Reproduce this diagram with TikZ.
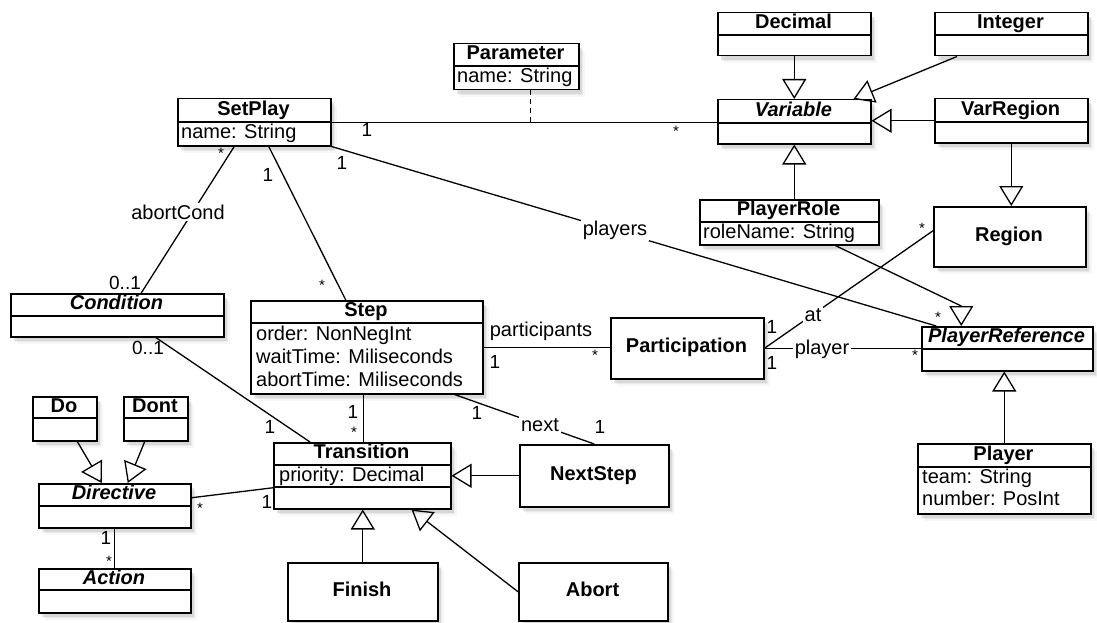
\documentclass[tikz,border=0pt]{standalone}
\usepackage{fontspec}
\setmainfont{Liberation Sans}
\usetikzlibrary{arrows.meta,shadows}
% class box: name, left, top, width, height
\newcommand\umlbox[5]{\node[box, minimum width=#4pt, minimum height=#5pt] (#1) at (#2,#3) {};}
% compartment separator: box name, offset below the top edge
\newcommand\umlsep[2]{\draw[line width=1.5pt] ([yshift=-#2pt]#1.north west) -- ([yshift=-#2pt]#1.north east);}
\begin{document}
\begin{tikzpicture}[x=1pt,y=-1pt,
  box/.style={draw, line width=1.5pt, fill=white, inner sep=0pt, anchor=north west,
    drop shadow={shadow xshift=6pt, shadow yshift=-7pt, opacity=0.06},
    drop shadow={shadow xshift=4.5pt, shadow yshift=-5.5pt, opacity=0.1},
    drop shadow={shadow xshift=3pt, shadow yshift=-4pt, opacity=0.16}},
  ttl/.style={font=\fontsize{20}{22}\selectfont\bfseries, inner sep=0pt, text height=14.5pt, text depth=4pt},
  abs/.style={font=\fontsize{20}{22}\selectfont\bfseries\itshape, inner sep=0pt, text height=14.5pt, text depth=4pt},
  attr/.style={font=\fontsize{20}{22}\selectfont, anchor=west, inner sep=0pt, text height=14.5pt, text depth=4pt},
  mult/.style={font=\fontsize{19}{20}\selectfont, inner sep=0pt},
  star/.style={font=\fontsize{15}{16}\selectfont, inner sep=0pt},
  lbl/.style={font=\fontsize{20}{22}\selectfont, fill=white, inner sep=2pt},
  assoc/.style={line width=1.3pt},
  gen/.style={line width=1.3pt, -{Triangle[open, length=20pt, width=24pt, line width=1.3pt]}}
]
\useasboundingbox[fill=white] (0,0) rectangle (1097,623);

% ---------- classes ----------
\umlbox{parameter}{453}{43}{125}{46} \umlsep{parameter}{23}
\node[ttl] (t-parameter) at (515.5,54.5) {Parameter};
\node[attr] (a-parameter) at (457,77.5) {name: String};

\umlbox{setplay}{177}{98}{153}{47} \umlsep{setplay}{24}
\node[ttl] (t-setplay) at (253.5,110) {SetPlay};
\node[attr] (a-setplay) at (181,133.5) {name: String};

\umlbox{decimal}{717}{12}{153}{43} \umlsep{decimal}{23}
\node[ttl] (t-decimal) at (793.5,23.5) {Decimal};

\umlbox{integer}{934}{12}{153}{43} \umlsep{integer}{23}
\node[ttl] (t-integer) at (1010.5,23.5) {Integer};

\umlbox{variable}{717}{99}{153}{44} \umlsep{variable}{24}
\node[abs] (t-variable) at (793.5,111) {Variable};

\umlbox{varregion}{934}{98}{153}{44} \umlsep{varregion}{24}
\node[ttl] (t-varregion) at (1010.5,110) {VarRegion};

\umlbox{playerrole}{699}{199}{179}{45} \umlsep{playerrole}{23}
\node[ttl] (t-playerrole) at (788.5,210.5) {PlayerRole};
\node[attr] (a-playerrole) at (703,233.5) {roleName: String};

\umlbox{region}{933}{206}{152}{60}
\node[ttl] (t-region) at (1009,236) {Region};

\umlbox{playerref}{921}{326}{171}{44} \umlsep{playerref}{23}
\node[abs] (t-playerref) at (1006.5,337.5) {PlayerReference};

\umlbox{participation}{610}{317}{153}{61}
\node[ttl] (t-participation) at (686.5,347.5) {Participation};

\umlbox{step}{250}{300}{232}{93} \umlsep{step}{23}
\node[ttl] (t-step) at (366,311.5) {Step};
\node[attr] (a-step1) at (256,335) {order: NonNegInt};
\node[attr] (a-step2) at (256,358) {waitTime: Miliseconds};
\node[attr] (a-step3) at (256,381) {abortTime: Miliseconds};

\umlbox{condition}{10}{293}{213}{43} \umlsep{condition}{23}
\node[abs] (t-condition) at (116.5,304.5) {Condition};

\umlbox{do}{32}{396}{64}{44} \umlsep{do}{22}
\node[ttl] (t-do) at (64,407) {Do};

\umlbox{dont}{123}{396}{64}{44} \umlsep{dont}{22}
\node[ttl] (t-dont) at (155,407) {Dont};

\umlbox{directive}{38}{483}{152}{44} \umlsep{directive}{23}
\node[abs] (t-directive) at (114,494.5) {Directive};

\umlbox{action}{38}{568}{152}{44} \umlsep{action}{22}
\node[abs] (t-action) at (114,579) {Action};

\umlbox{transition}{273}{442}{177}{66} \umlsep{transition}{23} \umlsep{transition}{45}
\node[ttl] (t-transition) at (361.5,453.5) {Transition};
\node[attr] (a-transition) at (279,476) {priority: Decimal};

\umlbox{nextstep}{519}{444}{149}{62}
\node[ttl] (t-nextstep) at (593.5,475) {NextStep};

\umlbox{finish}{287}{562}{150}{58}
\node[ttl] (t-finish) at (362,591) {Finish};

\umlbox{abort}{518}{562}{149}{58}
\node[ttl] (t-abort) at (592.5,591) {Abort};

\umlbox{player}{917}{443}{173}{70} \umlsep{player}{24}
\node[ttl] (t-player) at (1003.5,455) {Player};
\node[attr] (a-player1) at (922,478) {team: String};
\node[attr] (a-player2) at (922,500) {number: PosInt};

% ---------- connectors ----------
\draw[assoc] (setplay.east) -- (setplay.east -| variable.west);
\draw[assoc, dash pattern=on 5pt off 4pt] ([xshift=14.5pt]parameter.south) -- ([xshift=14.5pt]parameter.south |- setplay.east);
\draw[assoc] ([xshift=-20pt]setplay.south) -- ([xshift=24pt]condition.north);
\draw[assoc] ([xshift=14.5pt]setplay.south) -- ([xshift=-21pt]step.north);
\draw[assoc] (setplay.south east) -- ([xshift=-71pt]playerref.north);
\draw[assoc] ([xshift=38.5pt]condition.south) -- ([xshift=37pt]transition.north west);
\draw[assoc] ([xshift=-3pt]step.south) -- ([xshift=-3pt]step.south |- transition.north);
\draw[assoc] ([xshift=-29pt]step.south east) -- (nextstep.north);
\draw[assoc] (step.east) -- (step.east -| participation.west);
\draw[assoc] ([yshift=6pt]region.west) -- (participation.east);
\draw[assoc] (participation.east) -- (participation.east -| playerref.west);
\draw[assoc] ([yshift=8pt]directive.east) -- ([yshift=-12pt]transition.west);
\draw[assoc] (directive.south) -- (action.north);

\draw[gen] (decimal.south) -- (variable.north);
\draw[gen] ([xshift=23pt]integer.south west) -- ([xshift=-18pt]variable.north east);
\draw[gen] (varregion.west) -- (varregion.west -| variable.east);
\draw[gen] (variable.south |- playerrole.north) -- (variable.south);
\draw[gen] (varregion.south) -- (varregion.south |- region.north);
\draw[gen] ([xshift=46pt]playerrole.south) -- ([xshift=-46pt,yshift=20pt]playerref.north) -- ([xshift=-46pt]playerref.north);
\draw[gen] (player.north) -- (player.north |- playerref.south);
\draw[gen] (nextstep.west) -- (nextstep.west -| transition.east);
\draw[gen] (finish.north) -- (finish.north |- transition.south);
\draw[gen] (abort.west) -- ([xshift=-40pt]transition.south east);
\draw[gen] ([xshift=12.5pt]do.south) -- ([xshift=-13pt]directive.north);
\draw[gen] ([xshift=-11pt]dont.south) -- ([xshift=13pt]directive.north);

% ---------- role names ----------
\node[lbl] (l-abortcond) at (178,212) {abortCond};
\node[lbl] (l-players) at (615,230) {players};
\node[lbl] (l-at) at (813,315) {at};
\node[lbl] (l-player) at (822,349) {player};
\node[lbl] (l-next) at (540,425) {next};
\node[lbl, fill=none] (l-participants) at (541,331) {participants};

% ---------- multiplicities ----------
\node[mult] (m1) at (367,130) {1};
\node[star] (m2) at (676,131) {*};
\node[mult] (m3) at (342,163) {1};
\node[star] (m4) at (938,317) {*};
\node[star] (m5) at (221,153) {*};
\node[mult] (m6) at (125,283) {0..1};
\node[mult] (m7) at (268,175) {1};
\node[star] (m8) at (322,285) {*};
\node[mult] (m9) at (148,348) {0..1};
\node[mult] (m10) at (270,427) {1};
\node[mult] (m11) at (353,412) {1};
\node[star] (m12) at (354,432) {*};
\node[mult] (m13) at (477,413) {1};
\node[mult] (m14) at (600,427) {1};
\node[mult] (m15) at (495,362) {1};
\node[star] (m16) at (595,355) {*};
\node[mult] (m17) at (772,327) {1};
\node[star] (m18) at (922,228) {*};
\node[mult] (m19) at (772,363) {1};
\node[star] (m20) at (915,355) {*};
\node[star] (m21) at (200,508) {*};
\node[mult] (m22) at (267,502) {1};
\node[mult] (m23) at (106,538) {1};
\node[star] (m24) at (109,561) {*};
\end{tikzpicture}
\end{document}
